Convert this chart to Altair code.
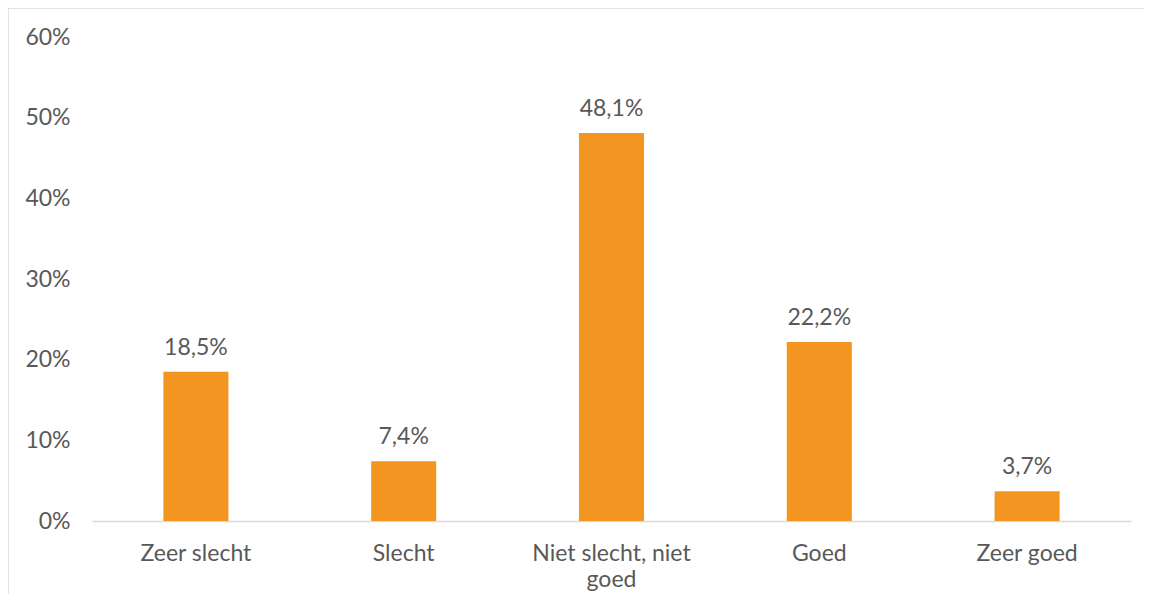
import altair as alt
import pandas as pd

categories = ["Zeer slecht", "Slecht", "Niet slecht, niet goed", "Goed", "Zeer goed"]
values = [18.5, 7.4, 48.1, 22.2, 3.7]
value_labels = ["18,5%", "7,4%", "48,1%", "22,2%", "3,7%"]
y_ticks = [0, 0.1, 0.2, 0.3, 0.4, 0.5, 0.6]

df = pd.DataFrame({
    "cat": categories,
    "val": [v / 100 for v in values],
    "lbl": value_labels,
})

FONT = "Lato"
TXT = "#595959"
FS = 23
W, H = 1039, 484

x_enc = alt.X(
    "cat:N",
    sort=categories,
    title=None,
    scale=alt.Scale(paddingInner=0.687, paddingOuter=0.3435),
    axis=alt.Axis(
        labelAngle=0,
        labelFont=FONT,
        labelFontSize=FS,
        labelColor=TXT,
        labelPadding=21,
        labelLineHeight=26,
        labelLimit=300,
        ticks=False,
        grid=False,
        domainColor="#D9D9D9",
        domainWidth=1.5,
        labelExpr="datum.label == 'Niet slecht, niet goed' ? ['Niet slecht, niet', 'goed'] : datum.label",
    ),
)
y_enc = alt.Y(
    "val:Q",
    title=None,
    scale=alt.Scale(domain=[0, 0.6], nice=False),
    axis=alt.Axis(
        values=y_ticks,
        format=".0%",
        labelFont=FONT,
        labelFontSize=FS,
        labelColor=TXT,
        labelPadding=22,
        ticks=False,
        domain=False,
        grid=False,
    ),
)

border = alt.Chart(pd.DataFrame({"a": [0]})).mark_rect(
    fill=None, stroke="#D9D9D9", strokeWidth=1.5
).encode(
    x=alt.value(-84), x2=alt.value(W + 200),
    y=alt.value(-29), y2=alt.value(H + 200),
)

bars = alt.Chart(df).mark_bar(color="#F39621").encode(x=x_enc, y=y_enc)
labels = alt.Chart(df).mark_text(
    font=FONT, fontSize=FS, color=TXT, baseline="bottom", dy=-12
).encode(x=alt.X("cat:N", sort=categories), y="val:Q", text="lbl:N")

chart = alt.layer(border, bars, labels).properties(
    width=W, height=H,
    background="white",
    autosize=alt.AutoSizeParams(type="none"),
    padding={"left": 84, "top": 29, "right": 13, "bottom": 73},
).configure_view(strokeWidth=0, stroke="transparent")

chart.save("out.html", embed_options={"renderer": "svg", "actions": False})
